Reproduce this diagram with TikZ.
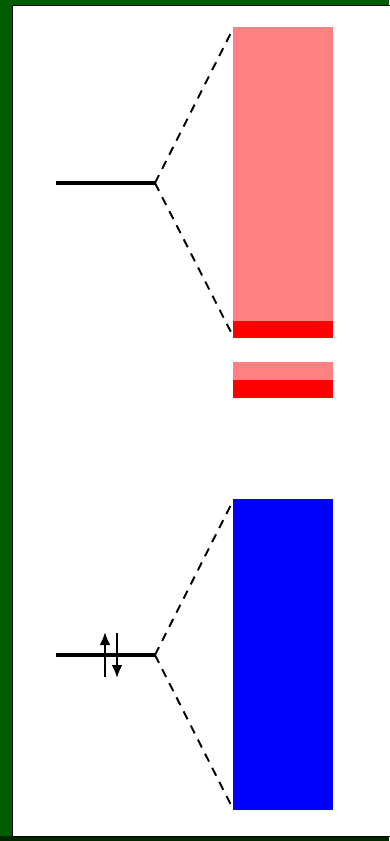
\documentclass[tikz,border=0pt]{standalone}
\usepackage{tikz}
\usetikzlibrary{positioning,arrows.meta}
\usepackage{xcolor}
\definecolor{framegreen}{HTML}{005E00}
\definecolor{framedark}{HTML}{002800}
\definecolor{bandpink}{HTML}{FF8080}
\definecolor{bandred}{HTML}{FF0000}
\definecolor{bandblue}{HTML}{0000FF}

\begin{document}
\begin{tikzpicture}[
    x=0.02cm, y=-0.02cm,
    band/.style={draw=none, rectangle, inner sep=0pt, minimum width=2cm, anchor=north west},
    level/.style={line width=2.3pt},
    link/.style={dashed, line width=1.1pt, dash pattern=on 5pt off 4pt},
    spin/.style={-{Latex[length=2.6mm,width=2.2mm]}, line width=1.3pt},
]
\useasboundingbox (0,0) rectangle (389,841);

% Frame
\fill[framegreen] (0,0) rectangle (389,841);
\fill[framedark] (0,836) rectangle (389,841);
\fill[white, draw=black, line width=0.4pt] (12,5) rectangle (392,836);

% Upper bands
\node[band, fill=bandpink, minimum height=5.92cm] (pinkA) at (233,27) {};
\node[band, fill=bandred, minimum height=0.34cm] (redA) at (233,321) {};
\node[band, fill=bandpink, minimum height=0.40cm] (pinkB) at (233,362) {};
\node[band, fill=bandred, minimum height=0.36cm] (redB) at (233,380) {};

% Lower band
\node[band, fill=bandblue, minimum height=6.22cm] (blueA) at (233,499) {};

% Levels
\coordinate (upL) at (56,183);
\coordinate (upR) at (155,183);
\coordinate (loL) at (56,655);
\coordinate (loR) at (155,655);
\draw[level] (upL) -- (upR);
\draw[level] (loL) -- (loR);

% Spins
\coordinate (su0) at (105,677);
\coordinate (su1) at (105,632);
\coordinate (sd0) at (117,633);
\coordinate (sd1) at (117,678);
\draw[spin] (su0) -- (su1);
\draw[spin] (sd0) -- (sd1);

% Dashed links
\draw[link] (upR) -- ([yshift=-1pt]pinkA.north west);
\draw[link] (upR) -- ([yshift=1.5pt]redA.south west);
\draw[link] (loR) -- ([yshift=-1pt]blueA.north west);
\draw[link] (loR) -- ([yshift=1pt]blueA.south west);

\end{tikzpicture}
\end{document}
